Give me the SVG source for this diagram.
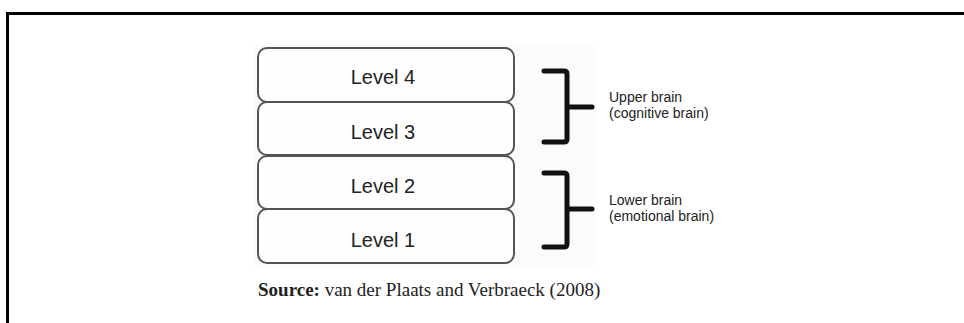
<svg xmlns="http://www.w3.org/2000/svg" width="964" height="323" viewBox="0 0 964 323">
<style>
.box{fill:#fefefe;stroke:#555;stroke-width:2}
.lbl{font-family:"Liberation Sans",Arial,sans-serif;font-size:20px;fill:#222;text-anchor:middle}
.br{fill:none;stroke:#111;stroke-width:5;stroke-linecap:round;stroke-linejoin:round}
.note{font-family:"Liberation Sans",Arial,sans-serif;font-size:14px;fill:#222}
.src{font-family:"Liberation Serif","Times New Roman",serif;font-size:19px;fill:#222}
</style>
<rect x="0" y="0" width="964" height="323" fill="#fff"/>
<path d="M7.5 323 V13.5 H964" fill="none" stroke="#000" stroke-width="3"/>
<rect x="254" y="45" width="342" height="222" fill="#fbfbfb"/>
<g id="level4"><rect class="box" x="258" y="48" width="256" height="54" rx="9"/><text class="lbl" x="383" y="84">Level 4</text></g>
<g id="level3"><rect class="box" x="258" y="102" width="256" height="53" rx="9"/><text class="lbl" x="383" y="139">Level 3</text></g>
<g id="level2"><rect class="box" x="258" y="156" width="256" height="53" rx="9"/><text class="lbl" x="383" y="193">Level 2</text></g>
<g id="level1"><rect class="box" x="258" y="209" width="256" height="54" rx="9"/><text class="lbl" x="383" y="247">Level 1</text></g>
<g id="upper">
<path class="br" d="M544 71 H564 Q567 71 567 74 V139 Q567 142 564 142 H544 M567 107 H592"/>
<text class="note" x="609" y="102">Upper brain</text>
<text class="note" x="609" y="118">(cognitive brain)</text>
</g>
<g id="lower">
<path class="br" d="M544 173 H564 Q567 173 567 176 V244 Q567 247 564 247 H544 M567 209 H592"/>
<text class="note" x="609" y="205">Lower brain</text>
<text class="note" x="609" y="221">(emotional brain)</text>
</g>
<text class="src" x="258" y="296"><tspan font-weight="bold">Source:</tspan> van der Plaats and Verbraeck (2008)</text>
</svg>
